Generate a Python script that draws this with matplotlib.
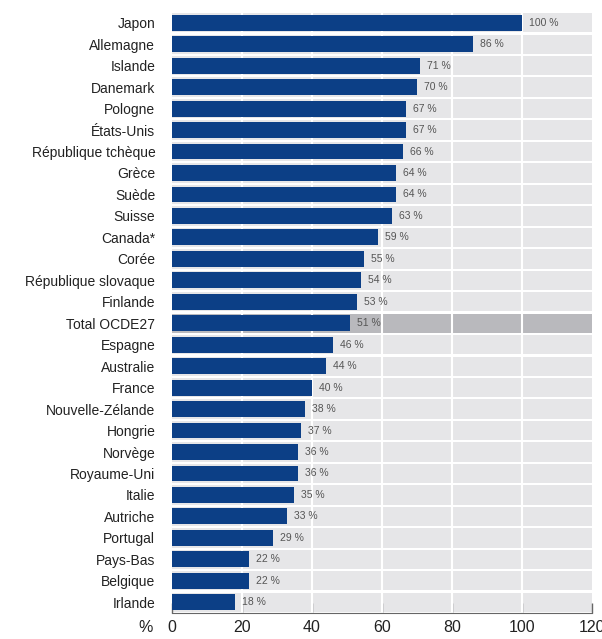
import matplotlib
matplotlib.use("Agg")
import matplotlib.pyplot as plt
from matplotlib import font_manager

countries = ["Japon", "Allemagne", "Islande", "Danemark", "Pologne", "États-Unis",
             "République tchèque", "Grèce", "Suède", "Suisse", "Canada*", "Corée",
             "République slovaque", "Finlande", "Total OCDE27", "Espagne", "Australie",
             "France", "Nouvelle-Zélande", "Hongrie", "Norvège", "Royaume-Uni", "Italie",
             "Autriche", "Portugal", "Pays-Bas", "Belgique", "Irlande"]
values = [100, 86, 71, 70, 67, 67, 66, 64, 64, 63, 59, 55, 54, 53, 51, 46, 44, 40,
          38, 37, 36, 36, 35, 33, 29, 22, 22, 18]
xticks = [0, 20, 40, 60, 80, 100, 120]
highlight = "Total OCDE27"

names = {f.name for f in font_manager.fontManager.ttflist}
fam = "Liberation Sans Narrow" if "Liberation Sans Narrow" in names else "Liberation Sans"
plt.rcParams["font.family"] = [fam, "DejaVu Sans"]

fig = plt.figure(figsize=(6.02, 6.39), dpi=100)
ax = fig.add_axes([0.2857, 0.0407, 0.697, 0.9405])

n = len(countries)
ypos = list(range(n))
xmax = xticks[-1]

band_colors = ["#b9b9bd" if c == highlight else "#e6e6e8" for c in countries]
ax.barh(ypos, [xmax] * n, height=0.9, color=band_colors, zorder=1)
for t in xticks[1:-1]:
    ax.axvline(t, color="white", lw=1.5, zorder=2)
ax.barh(ypos, values, height=0.74, color="#0c3f86", zorder=3)

for y, v in zip(ypos, values):
    ax.text(v + 2.0, y, f"{v} %", va="center", ha="left", fontsize=7.5,
            color="#555555", zorder=4)

ax.set_ylim(n - 0.5, -0.5)
ax.set_xlim(0, xmax)
ax.set_yticks(ypos)
ax.set_yticklabels(countries, fontsize=10, color="#222222")
ax.tick_params(axis="y", length=0, pad=12)
ax.set_xticks(xticks)
ax.set_xticklabels([str(t) for t in xticks], fontsize=11.5, color="#222222")
ax.tick_params(axis="x", direction="in", length=7, width=1, color="#666666", pad=5)
for s in ["left", "top", "right"]:
    ax.spines[s].set_visible(False)
ax.spines["bottom"].set_color("#666666")
ax.spines["bottom"].set_zorder(5)
ax.text(-0.045, -0.0115, "%", transform=ax.transAxes, ha="right", va="top",
        fontsize=11.5, color="#222222")

fig.savefig("out.png", dpi=100, facecolor="white")
